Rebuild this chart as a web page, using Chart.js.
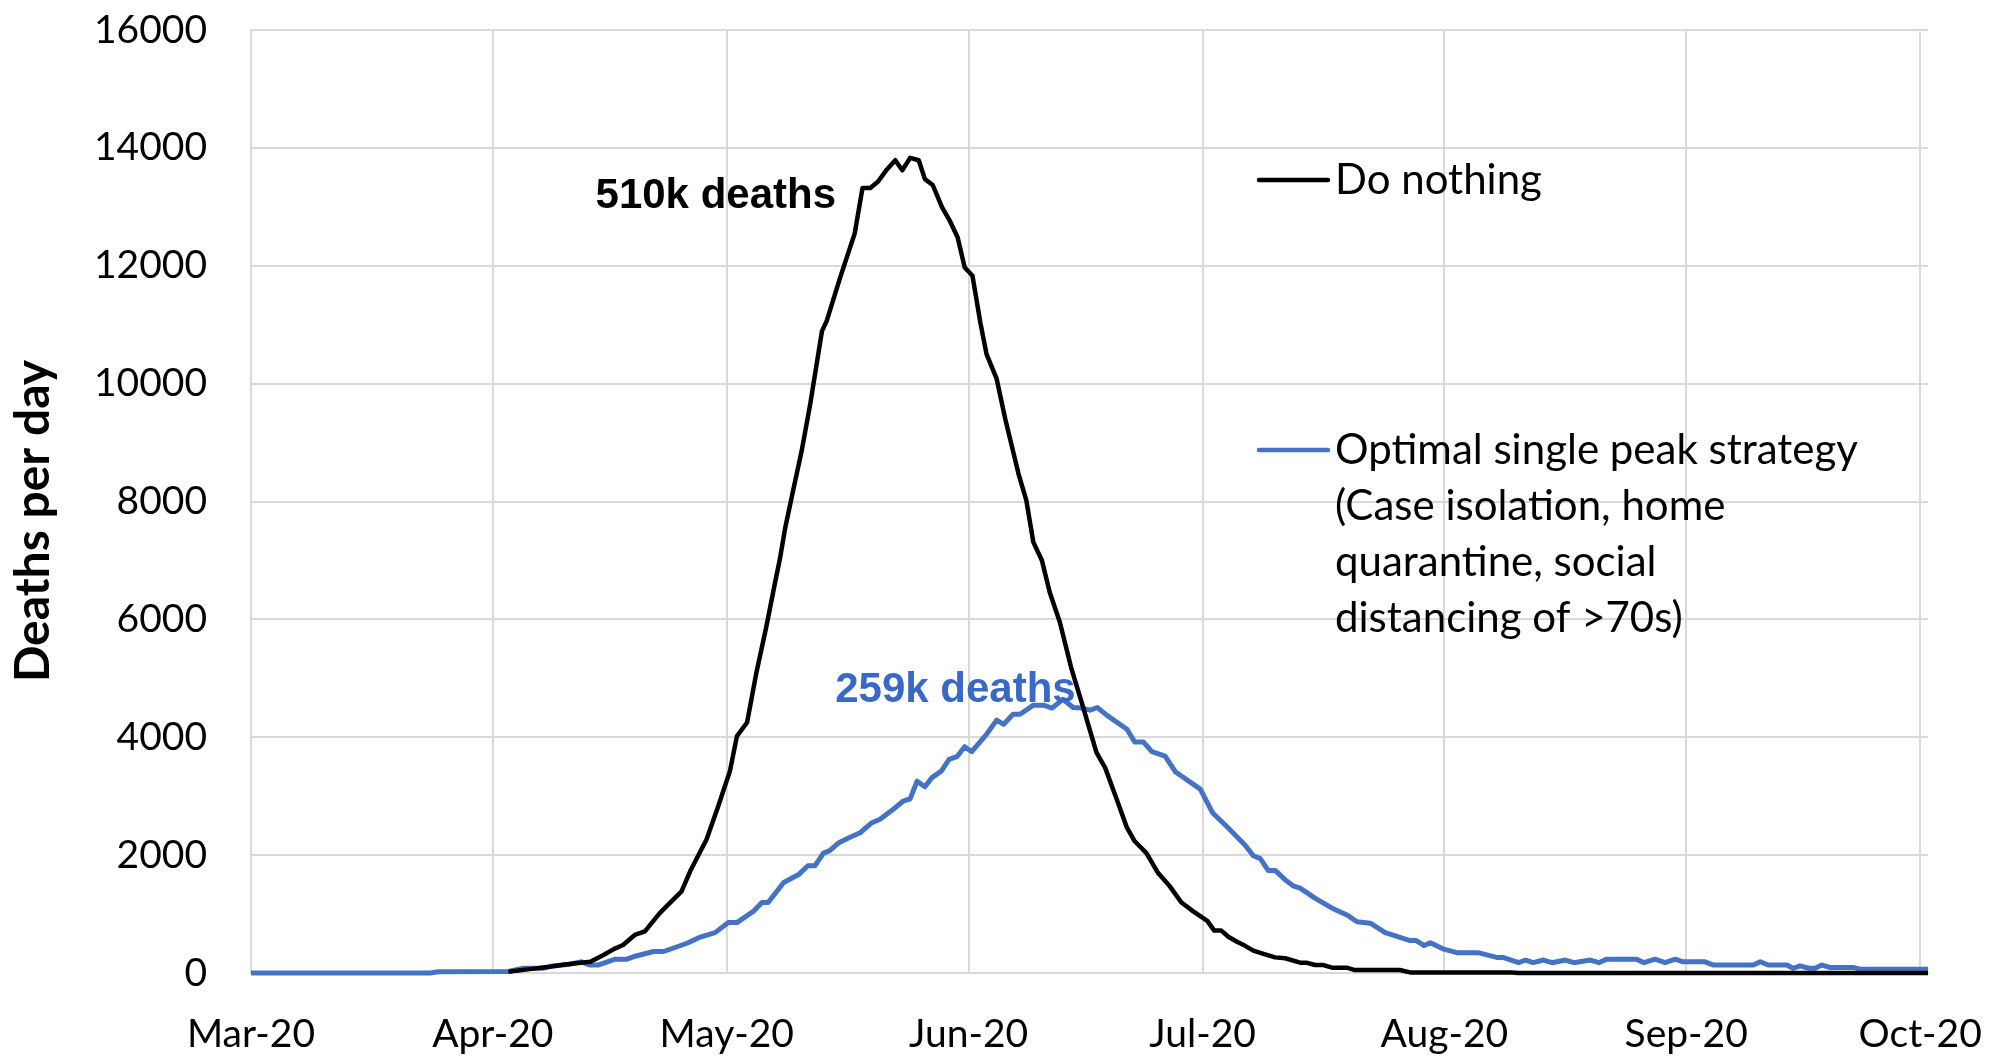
<!DOCTYPE html>
<html>
<head>
<meta charset="utf-8">
<script src="https://cdn.jsdelivr.net/npm/chart.js@4.4.1/dist/chart.umd.min.js"></script>
<style>
  html, body { margin: 0; padding: 0; background: #fff; }
</style>
</head>
<body>
<canvas id="deathsChart" width="1998" height="1060"></canvas>
<script>
// x values are days counted from 1 March 2020
const monthStarts = [0, 31, 61, 92, 122, 153, 184, 214];
const monthLabels = ["Mar-20", "Apr-20", "May-20", "Jun-20", "Jul-20", "Aug-20", "Sep-20", "Oct-20"];
const yTicks = [0, 2000, 4000, 6000, 8000, 10000, 12000, 14000, 16000];

// Do nothing
const doNothingDays = [33, 34, 36, 38, 40, 42, 43.5, 45.2, 46.5, 47.7, 49.2, 50.5, 52.4, 53.9, 55.2, 56.3, 58.4, 59.9,
  61.4, 62.3, 63.6, 64.8, 66.1, 67.2, 67.8, 68.5, 69.5, 70.6, 71.7, 73.2, 73.8, 75.5, 77.4, 78.4, 79.4, 80.4,
  81.5, 82.6, 83.5, 84.5, 85.6, 86.4, 87.4, 88.6, 89.6, 90.6, 91.5, 92.5, 93.5, 94.3, 95.6, 96.7, 98.4, 99.4,
  100.3, 101.4, 102.4, 103.7, 105.2, 106.5, 108.4, 109.5, 111, 112.3, 113.3, 114.8, 116.3, 117.8, 119.3, 120.8,
  122.6, 123.5, 124.4, 125.3, 126.4, 127.4, 128.5, 129.8, 131.3, 132.6, 134.5, 135.3, 136.4, 137.5, 138.6, 140.5,
  141.5, 147.3, 148.6, 161.6, 162.5, 215];
const doNothingDeaths = [20, 40, 70, 100, 140, 170, 190, 305, 405, 475, 645, 705, 1015, 1215, 1385, 1725, 2265, 2830,
  3425, 4020, 4250, 5100, 5895, 6635, 7020, 7560, 8185, 8860, 9655, 10890, 11060, 11785, 12550, 13320, 13320, 13430,
  13630, 13790, 13620, 13830, 13790, 13470, 13370, 12990, 12760, 12480, 11970, 11830, 11040, 10500, 10080, 9400, 8470, 8020,
  7310, 7000, 6460, 5950, 5155, 4590, 3740, 3485, 2945, 2465, 2235, 2035, 1695, 1470, 1195, 1045,
  885, 720, 720, 615, 530, 465, 380, 325, 265, 250, 175, 175, 135, 135, 90, 90,
  50, 50, 10, 10, 0, 0];

// Optimal single peak strategy
const optimalDays = [0, 23, 24, 33, 34.9, 37.4, 38.7, 40.9, 42.4, 43.5, 44.5, 46.7, 48.2, 49, 51.6, 52.9, 55.9, 57.6,
  59.5, 61.2, 62.3, 64.4, 65.5, 66.3, 68.3, 70.2, 71.4, 72.3, 73.4, 74.2, 75.3, 76.6, 78.1, 79.6, 80.6, 82.3,
  83.6, 84.5, 85.4, 86.4, 87.3, 88.5, 89.5, 90.5, 91.5, 92.4, 94.3, 95.6, 96.5, 97.7, 98.6, 100.3, 101.6, 102.7,
  104.1, 105.4, 106.5, 107.6, 108.5, 109.7, 112.3, 113.3, 114.4, 115.5, 117.2, 118.5, 121.7, 123.3, 125.1, 127.4,
  128.5, 129.4, 130.4, 131.3, 132.6, 133.6, 134.5, 136.4, 138.6, 140.5, 141.8, 143.5, 145.4, 147.3, 148.6, 149.4,
  150.4, 151.2, 152.8, 154.6, 157.3, 159.7, 160.5, 162.5, 163.4, 164.4, 165.7, 166.8, 168.5, 169.6, 171.7, 172.8,
  173.8, 177.6, 178.6, 180, 181.3, 182.6, 183.6, 186.4, 187.5, 192.6, 193.5, 194.5, 196.9, 197.7, 198.6, 199.7,
  200.5, 201.4, 202.4, 205.4, 206.3, 215];
const optimalDeaths = [0, 0, 20, 25, 80, 80, 120, 150, 190, 135, 135, 235, 235, 275, 365, 365, 505, 610,
  685, 855, 855, 1045, 1195, 1195, 1535, 1670, 1820, 1820, 2035, 2075, 2205, 2290, 2380, 2550, 2605, 2775,
  2915, 2955, 3255, 3160, 3315, 3425, 3625, 3670, 3840, 3755, 4050, 4290, 4220, 4390, 4390, 4545, 4545, 4495,
  4645, 4505, 4495, 4460, 4505, 4375, 4135, 3920, 3920, 3755, 3680, 3415, 3120, 2715, 2485, 2175,
  1990, 1940, 1740, 1740, 1580, 1480, 1440, 1270, 1100, 985, 870, 845, 685, 605, 550, 550,
  465, 515, 410, 345, 345, 265, 265, 175, 220, 175, 220, 175, 220, 175, 220, 175,
  235, 235, 175, 235, 175, 235, 190, 190, 135, 135, 190, 135, 135, 80, 120, 80,
  80, 135, 95, 95, 65, 65];

const seriesNames = ["Do nothing", "Optimal single peak strategy"];
const legendLines = [
  ["Do nothing"],
  ["Optimal single peak strategy", "(Case isolation, home", "quarantine, social", "distancing of >70s)"],
];
const totalLabels = ["510k deaths", "259k deaths"];
const yTitle = "Deaths per day";

const BLACK = "#000000";
const BLUE = "#4472C4";
const GRID = "#D9D9D9";
const tickFont = { family: "Lato", size: 39 };

function toPoints(days, values) {
  return days.map((d, i) => ({ x: d, y: values[i] }));
}

// Axis title, annotations and in-plot legend
const overlayPlugin = {
  id: "overlay",
  afterDatasetsDraw(chart) {
    const { ctx, chartArea, scales } = chart;
    ctx.save();

    // y axis title (sits a bit below the middle, like the original)
    ctx.save();
    ctx.translate(34, 521);
    ctx.rotate(-Math.PI / 2);
    ctx.font = "bold 48px Lato";
    ctx.fillStyle = BLACK;
    ctx.textAlign = "center";
    ctx.textBaseline = "middle";
    ctx.fillText(yTitle, 0, 0);
    ctx.restore();

    // total deaths labels, anchored on data coordinates
    ctx.font = "bold 42px 'Liberation Sans'";
    ctx.textBaseline = "middle";
    ctx.fillStyle = BLACK;
    ctx.textAlign = "right";
    ctx.fillText(totalLabels[0], scales.x.getPixelForValue(75), scales.y.getPixelForValue(13170));
    ctx.fillStyle = "#3A68C8";
    ctx.textAlign = "left";
    ctx.fillText(totalLabels[1], scales.x.getPixelForValue(74.9), scales.y.getPixelForValue(4800));

    // legend
    const lx = chartArea.left + 1008;
    const tx = chartArea.left + 1084;
    const rowTops = [chartArea.top + 150, chartArea.top + 420];
    ctx.font = "42px Lato";
    ctx.textAlign = "left";
    chart.data.datasets.forEach((ds, i) => {
      const y0 = rowTops[i];
      ctx.strokeStyle = ds.borderColor;
      ctx.lineWidth = 4.5;
      ctx.lineCap = "round";
      ctx.beginPath();
      ctx.moveTo(lx, y0);
      ctx.lineTo(lx + 69, y0);
      ctx.stroke();
      ctx.fillStyle = BLACK;
      legendLines[i].forEach((line, j) => {
        ctx.fillText(line, tx, y0 + j * 56);
      });
    });
    ctx.restore();
  },
};

const ctx = document.getElementById("deathsChart").getContext("2d");
const deathsChart = new Chart(ctx, {
  type: "line",
  data: {
    datasets: [
      {
        label: seriesNames[0],
        data: toPoints(doNothingDays, doNothingDeaths),
        borderColor: BLACK,
        borderWidth: 4.5,
        pointRadius: 0,
        tension: 0,
        borderJoinStyle: "round",
        clip: 8,
      },
      {
        label: seriesNames[1],
        data: toPoints(optimalDays, optimalDeaths),
        borderColor: BLUE,
        borderWidth: 5,
        pointRadius: 0,
        tension: 0,
        borderJoinStyle: "round",
        clip: 8,
      },
    ],
  },
  options: {
    responsive: false,
    devicePixelRatio: 1,
    animation: false,
    layout: { padding: { top: 30, right: 70, bottom: 0, left: 0 } },
    scales: {
      x: {
        type: "linear",
        min: 0,
        max: 215,
        afterBuildTicks: function (axis) {
          axis.ticks = monthStarts.map((v) => ({ value: v }));
        },
        afterFit: function (scale) {
          scale.height = 87;
          scale.paddingLeft = 0;
          scale.paddingRight = 0;
        },
        ticks: {
          autoSkip: false,
          maxRotation: 0,
          padding: 38,
          color: BLACK,
          font: tickFont,
          callback: function (value, index) {
            return monthLabels[index];
          },
        },
        grid: { color: GRID, lineWidth: 2, drawTicks: false },
        border: { color: GRID, width: 2 },
      },
      y: {
        min: 0,
        max: 16000,
        afterBuildTicks: function (axis) {
          axis.ticks = yTicks.map((v) => ({ value: v }));
        },
        afterFit: function (scale) {
          scale.width = 251;
          scale.paddingTop = 0;
          scale.paddingBottom = 0;
        },
        ticks: {
          padding: 44,
          color: BLACK,
          font: tickFont,
          callback: function (value) {
            return String(value);
          },
        },
        grid: { color: GRID, lineWidth: 2, drawTicks: false },
        border: { color: GRID, width: 2 },
      },
    },
    plugins: {
      legend: { display: false },
      tooltip: { enabled: false },
    },
  },
  plugins: [overlayPlugin],
});
</script>
</body>
</html>
